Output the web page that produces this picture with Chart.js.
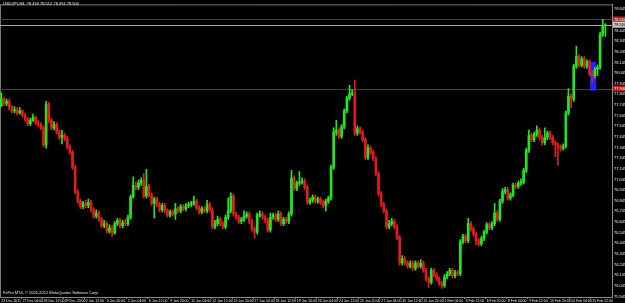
<!DOCTYPE html>
<html>
<head>
<meta charset="utf-8">
<script src="https://cdn.jsdelivr.net/npm/chart.js@4"></script>
<style>
html, body { margin: 0; padding: 0; background: #000; }
canvas { display: block; }
</style>
</head>
<body>
<canvas id="chart" width="625" height="303"></canvas>
<script>
// USDJPY H4, 23 Dec 2011 - 16 Feb 2012
const open = [
  77.74,77.80,77.76,77.78,77.72,77.69,77.70,77.67,77.69,77.65,
  77.61,77.57,77.60,77.63,77.58,77.56,77.53,77.37,77.75,77.60,
  77.53,77.56,77.49,77.44,77.46,77.43,77.35,77.30,77.16,76.93,
  76.84,76.79,76.82,76.80,76.83,76.76,76.70,76.73,76.67,76.61,
  76.63,76.56,76.59,76.54,76.63,76.66,76.61,76.64,76.63,76.69,
  76.88,76.99,76.97,77.01,77.04,76.89,76.98,76.90,76.82,76.86,
  76.81,76.76,76.80,76.75,76.71,76.74,76.72,76.77,76.75,76.79,
  76.77,76.80,76.81,76.82,76.84,76.78,76.74,76.77,76.75,76.81,
  76.76,76.60,76.63,76.67,76.63,76.60,76.69,76.75,76.89,76.72,
  76.69,76.65,76.67,76.70,76.72,76.65,76.58,76.55,76.71,76.72,
  76.69,76.66,76.57,76.69,76.71,76.67,76.72,76.63,76.67,76.65,
  76.72,77.06,76.96,77.01,77.02,77.03,76.97,76.83,76.85,76.88,
  76.84,76.86,76.83,76.80,76.84,76.87,77.16,77.49,77.51,77.45,
  77.54,77.69,77.81,77.85,77.86,77.48,77.52,77.49,77.42,77.25,
  77.34,77.30,77.24,77.10,76.91,76.81,76.75,76.60,76.63,76.65,
  76.60,76.50,76.26,76.30,76.26,76.23,76.26,76.21,76.26,76.23,
  76.26,76.19,76.11,76.08,76.19,76.15,76.11,76.07,76.05,76.13,
  76.16,76.19,76.14,76.17,76.16,76.46,76.51,76.47,76.63,76.58,
  76.53,76.47,76.44,76.49,76.55,76.62,76.59,76.63,76.73,76.67,
  76.84,76.93,76.95,76.87,76.90,76.99,76.98,77.01,77.02,77.13,
  77.32,77.46,77.42,77.47,77.51,77.44,77.39,77.44,77.48,77.44,
  77.39,77.37,77.35,77.34,77.36,77.67,77.83,77.80,78.11,78.20,
  78.12,78.18,78.11,78.15,78.04,78.02,78.08,78.10,78.41,78.49
];
const high = [
  77.86,77.82,77.80,77.80,77.74,77.73,77.72,77.72,77.70,77.67,
  77.63,77.62,77.66,77.64,77.60,77.58,77.55,77.78,77.77,77.62,
  77.59,77.58,77.51,77.51,77.48,77.45,77.37,77.32,77.18,76.95,
  76.86,76.84,76.85,76.86,76.85,76.78,76.76,76.75,76.69,76.66,
  76.65,76.62,76.61,76.65,76.68,76.68,76.66,76.67,76.71,76.90,
  77.07,77.02,77.04,77.06,77.10,77.14,77.00,76.92,76.88,76.88,
  76.83,76.82,76.82,76.77,76.76,76.76,76.82,76.79,76.81,76.81,
  76.82,76.83,76.84,76.89,76.86,76.80,76.79,76.79,76.85,76.83,
  76.78,76.66,76.70,76.69,76.65,76.71,76.87,76.92,76.91,76.74,
  76.71,76.69,76.75,76.74,76.74,76.67,76.60,76.73,76.75,76.74,
  76.71,76.68,76.73,76.73,76.73,76.75,76.74,76.69,76.69,76.74,
  77.13,77.08,77.03,77.12,77.06,77.05,76.99,76.87,76.90,76.90,
  76.88,76.88,76.85,76.86,76.89,77.18,77.53,77.60,77.53,77.56,
  77.71,77.83,77.93,77.89,77.98,77.55,77.54,77.51,77.44,77.37,
  77.36,77.32,77.26,77.12,76.93,76.83,76.77,76.66,76.68,76.67,
  76.62,76.52,76.33,76.32,76.28,76.28,76.28,76.28,76.28,76.29,
  76.28,76.21,76.13,76.21,76.21,76.17,76.13,76.09,76.15,76.18,
  76.21,76.21,76.19,76.19,76.48,76.53,76.53,76.68,76.65,76.60,
  76.55,76.49,76.51,76.57,76.64,76.64,76.65,76.82,76.75,76.86,
  76.96,76.97,76.97,76.92,77.01,77.01,77.03,77.05,77.15,77.34,
  77.51,77.48,77.49,77.55,77.53,77.46,77.53,77.50,77.50,77.46,
  77.41,77.39,77.37,77.38,77.69,77.90,77.85,78.13,78.30,78.22,
  78.20,78.20,78.17,78.17,78.06,78.10,78.12,78.43,78.55,78.51
];
const low = [
  77.73,77.74,77.74,77.70,77.67,77.67,77.65,77.66,77.63,77.59,
  77.55,77.55,77.59,77.56,77.54,77.51,77.35,77.34,77.58,77.51,
  77.51,77.47,77.42,77.38,77.41,77.33,77.28,77.14,76.91,76.82,
  76.77,76.77,76.78,76.78,76.74,76.68,76.68,76.65,76.59,76.59,
  76.54,76.54,76.51,76.53,76.61,76.59,76.59,76.61,76.61,76.67,
  76.87,76.95,76.95,76.99,76.87,76.87,76.88,76.80,76.68,76.79,
  76.74,76.74,76.73,76.69,76.69,76.70,76.67,76.73,76.73,76.75,
  76.75,76.78,76.79,76.80,76.76,76.72,76.72,76.73,76.73,76.74,
  76.58,76.58,76.61,76.61,76.58,76.58,76.67,76.73,76.70,76.67,
  76.63,76.63,76.65,76.68,76.63,76.56,76.49,76.53,76.69,76.67,
  76.64,76.55,76.55,76.67,76.65,76.65,76.61,76.61,76.63,76.63,
  76.70,76.94,76.94,76.99,77.00,76.95,76.81,76.81,76.83,76.82,
  76.82,76.81,76.78,76.75,76.82,76.85,77.14,77.46,77.43,77.43,
  77.52,77.67,77.79,77.83,77.46,77.46,77.47,77.40,77.23,77.23,
  77.28,77.22,77.08,76.89,76.79,76.73,76.58,76.58,76.61,76.58,
  76.48,76.24,76.24,76.24,76.21,76.21,76.19,76.19,76.21,76.21,
  76.17,76.09,76.03,76.06,76.13,76.09,76.05,76.02,76.03,76.11,
  76.14,76.12,76.12,76.14,76.14,76.44,76.45,76.45,76.56,76.51,
  76.43,76.42,76.42,76.47,76.53,76.57,76.57,76.61,76.65,76.65,
  76.82,76.91,76.85,76.85,76.88,76.96,76.96,76.99,77.00,77.11,
  77.30,77.40,77.40,77.45,77.42,77.37,77.37,77.42,77.42,77.37,
  77.26,77.18,77.31,77.32,77.34,77.65,77.72,77.78,78.09,78.10,
  78.10,78.09,78.09,78.02,77.96,78.00,78.02,78.08,78.39,78.39
];
const close = [
  77.80,77.76,77.78,77.72,77.69,77.70,77.67,77.69,77.65,77.61,
  77.57,77.60,77.63,77.58,77.56,77.53,77.37,77.75,77.60,77.53,
  77.56,77.49,77.44,77.46,77.43,77.35,77.30,77.16,76.93,76.84,
  76.79,76.82,76.80,76.83,76.76,76.70,76.73,76.67,76.61,76.63,
  76.56,76.59,76.54,76.63,76.66,76.61,76.64,76.63,76.69,76.88,
  76.99,76.97,77.01,77.04,76.89,76.98,76.90,76.82,76.86,76.81,
  76.76,76.80,76.75,76.71,76.74,76.72,76.77,76.75,76.79,76.77,
  76.80,76.81,76.82,76.84,76.78,76.74,76.77,76.75,76.81,76.76,
  76.60,76.63,76.67,76.63,76.60,76.69,76.75,76.89,76.72,76.69,
  76.65,76.67,76.70,76.72,76.65,76.58,76.55,76.71,76.72,76.69,
  76.66,76.57,76.69,76.71,76.67,76.72,76.63,76.67,76.65,76.72,
  77.06,76.96,77.01,77.02,77.03,76.97,76.83,76.85,76.88,76.84,
  76.86,76.83,76.80,76.84,76.87,77.16,77.49,77.51,77.45,77.54,
  77.69,77.81,77.85,77.86,77.48,77.52,77.49,77.42,77.25,77.34,
  77.30,77.24,77.10,76.91,76.81,76.75,76.60,76.63,76.65,76.60,
  76.50,76.26,76.30,76.26,76.23,76.26,76.21,76.26,76.23,76.26,
  76.19,76.11,76.08,76.19,76.15,76.11,76.07,76.05,76.13,76.16,
  76.19,76.14,76.17,76.16,76.46,76.51,76.47,76.63,76.58,76.53,
  76.47,76.44,76.49,76.55,76.62,76.59,76.63,76.73,76.67,76.84,
  76.93,76.95,76.87,76.90,76.99,76.98,77.01,77.02,77.13,77.32,
  77.46,77.42,77.47,77.51,77.44,77.39,77.44,77.48,77.44,77.39,
  77.37,77.35,77.34,77.36,77.67,77.83,77.80,78.11,78.20,78.12,
  78.18,78.11,78.15,78.04,78.02,78.08,78.10,78.41,78.49,78.50
];

// time labels, one every 8 bars
const timeLabels = [
  '23 Dec 2011', '27 Dec 04:00', '28 Dec 12:00', '29 Dec 20:00', '2 Jan 12:00',
  '3 Jan 20:00', '5 Jan 04:00', '6 Jan 12:00', '9 Jan 20:00', '11 Jan 04:00',
  '12 Jan 12:00', '13 Jan 20:00', '17 Jan 04:00', '18 Jan 12:00', '19 Jan 20:00',
  '23 Jan 04:00', '24 Jan 12:00', '25 Jan 20:00', '27 Jan 04:00', '30 Jan 12:00',
  '31 Jan 20:00', '2 Feb 04:00', '3 Feb 12:00', '6 Feb 20:00', '8 Feb 04:00',
  '9 Feb 12:00', '10 Feb 20:00', '14 Feb 04:00', '15 Feb 12:00'
];
const labelEvery = 8;

const priceTicks = [
  78.645, 78.545, 78.445, 78.345, 78.245, 78.145, 78.045, 77.945, 77.845, 77.745,
  77.645, 77.545, 77.445, 77.345, 77.245, 77.145, 77.045, 76.945, 76.845, 76.745,
  76.645, 76.545, 76.445, 76.345, 76.245, 76.145, 76.045, 75.945
];

const levelLines = [78.55, 77.90];
const boxZone = { from: 223.2, to: 225.5, low: 77.88, high: 78.15 };
const titleText = 'USDJPY,H4  78.490 78.512 78.391 78.500';
const footerText = 'FxPro MT4, \u00A9 2001-2012 MetaQuotes Software Corp.';

const bull = '#22e622';
const bear = '#e21c1c';
const tinyFont = '"Liberation Sans Narrow", "Liberation Sans", Arial, sans-serif';
const colors = close.map((c, i) => (c >= open[i] ? bull : bear));
const bars = close.map((_, i) => i).concat([close.length, close.length + 1]); // chart shift

const mt4 = {
  id: 'mt4',
  beforeDraw(chart) {
    const ctx = chart.ctx;
    ctx.save();
    ctx.fillStyle = '#000';
    ctx.fillRect(0, 0, chart.width, chart.height);
    ctx.restore();
  },
  beforeDatasetsDraw(chart) {
    const { ctx, chartArea: a, scales: { x, y } } = chart;
    ctx.save();
    // borders
    ctx.strokeStyle = '#7a7a7a';
    ctx.lineWidth = 1;
    ctx.beginPath();
    ctx.moveTo(a.left, a.top + 0.5);
    ctx.lineTo(a.right, a.top + 0.5);
    ctx.moveTo(a.left + 0.5, a.top);
    ctx.lineTo(a.left + 0.5, a.bottom);
    ctx.stroke();

    // rectangle object
    const x1 = x.getPixelForValue(boxZone.from);
    const x2 = x.getPixelForValue(boxZone.to);
    const y1 = y.getPixelForValue(boxZone.high);
    const y2 = y.getPixelForValue(boxZone.low);
    ctx.fillStyle = '#2424ff';
    ctx.fillRect(x1, y1, x2 - x1, y2 - y1);

    // horizontal levels
    ctx.strokeStyle = '#8b2323';
    levelLines.forEach((v) => {
      const py = Math.round(y.getPixelForValue(v)) + 0.5;
      ctx.beginPath();
      ctx.moveTo(a.left, py);
      ctx.lineTo(a.right, py);
      ctx.stroke();
    });

    // bid line
    const bid = close[close.length - 1];
    const by = Math.round(y.getPixelForValue(bid)) + 0.5;
    ctx.strokeStyle = '#a8a8a8';
    ctx.beginPath();
    ctx.moveTo(a.left, by);
    ctx.lineTo(a.right, by);
    ctx.stroke();
    ctx.restore();
  },
  afterDraw(chart) {
    const { ctx, chartArea: a, scales: { y } } = chart;
    ctx.save();
    ctx.font = '4px ' + tinyFont;
    ctx.fillStyle = '#e8e8e8';
    ctx.textBaseline = 'middle';
    ctx.textAlign = 'left';
    ctx.fillText(titleText, 3, 4);
    ctx.fillText(footerText, 3, a.bottom - 4);

    // price tags on the right axis
    const tag = (v, bg, fg) => {
      const py = y.getPixelForValue(v);
      ctx.fillStyle = bg;
      ctx.fillRect(a.right + 1, py - 3, chart.width - a.right - 1, 6);
      ctx.fillStyle = fg;
      ctx.fillText(v.toFixed(3), a.right + 2, py);
    };
    levelLines.forEach((v) => tag(v, '#b01e1e', '#fff'));
    tag(close[close.length - 1], '#c8c8c8', '#000');
    ctx.restore();
  }
};

new Chart(document.getElementById('chart'), {
  type: 'bar',
  data: {
    labels: bars,
    datasets: [
      {
        label: 'wick',
        data: low.map((l, i) => [l, high[i]]),
        backgroundColor: colors,
        barThickness: 1,
        grouped: false
      },
      {
        label: 'body',
        data: open.map((o, i) => [o, close[i]]),
        backgroundColor: colors,
        barThickness: 2,
        minBarLength: 1,
        grouped: false
      }
    ]
  },
  options: {
    responsive: false,
    devicePixelRatio: 1,
    animation: false,
    events: [],
    layout: { padding: 0 },
    plugins: { legend: { display: false }, tooltip: { enabled: false } },
    scales: {
      x: {
        type: 'category',
        offset: true,
        grid: {
          drawOnChartArea: false,
          tickLength: 2,
          color: (c) => (c.index % labelEvery === 0 ? '#8c8c8c' : 'rgba(0,0,0,0)')
        },
        border: { color: '#8c8c8c' },
        ticks: {
          autoSkip: false,
          maxRotation: 0,
          minRotation: 0,
          padding: 0,
          align: 'start',
          color: '#e8e8e8',
          font: { size: 3.5, family: tinyFont },
          callback: (v, i) => (i % labelEvery === 0 ? (timeLabels[i / labelEvery] || '') : '')
        },
        afterFit: (s) => { s.height = 6; }
      },
      y: {
        type: 'linear',
        position: 'right',
        min: 75.94,
        max: 78.691,
        grid: { display: false, drawTicks: false, tickLength: 0 },
        border: { color: '#8c8c8c' },
        afterBuildTicks: (s) => { s.ticks = priceTicks.map((v) => ({ value: v })); },
        ticks: {
          autoSkip: false,
          padding: 2,
          color: '#f0f0f0',
          font: { size: 4, family: tinyFont },
          callback: (v) => Number(v).toFixed(3)
        },
        afterFit: (s) => { s.width = 13; }
      }
    }
  },
  plugins: [mt4]
});
</script>
</body>
</html>
